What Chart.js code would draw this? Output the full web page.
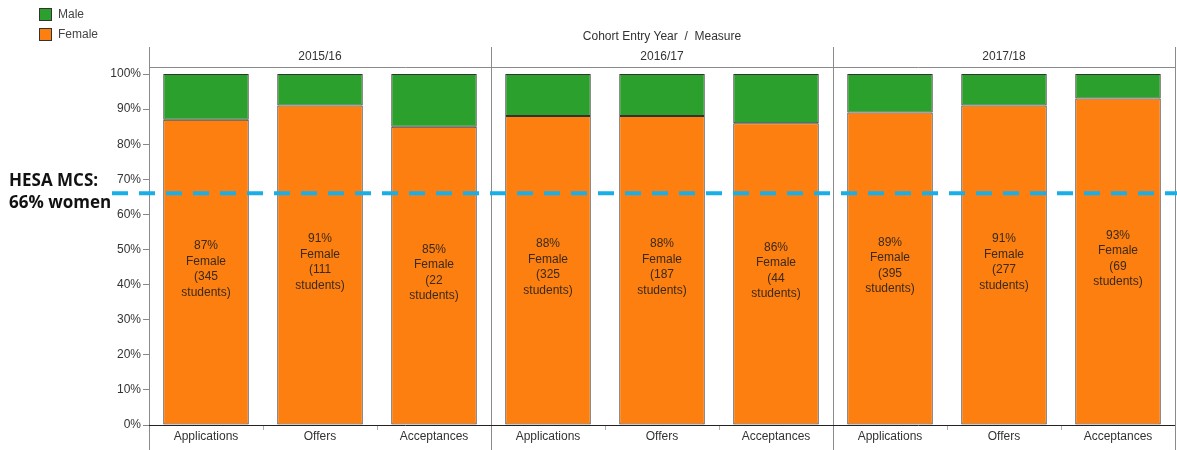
<!DOCTYPE html>
<html>
<head>
<meta charset="utf-8">
<script src="https://cdn.jsdelivr.net/npm/chart.js@4.4.1/dist/chart.umd.min.js"></script>
<style>
  html, body { margin: 0; padding: 0; background: #fff; }
  #wrap { width: 1177px; height: 450px; position: relative; }
</style>
</head>
<body>
<div id="wrap"><canvas id="genderChart"></canvas></div>
<script>
const years = ["2015/16", "2016/17", "2017/18"];
const measures = ["Applications", "Offers", "Acceptances"];
const femalePct = [87, 91, 85, 88, 88, 86, 89, 91, 93];
const malePct = [13, 9, 15, 12, 12, 14, 11, 9, 7];
const femaleStudents = [345, 111, 22, 325, 187, 44, 395, 277, 69];
const yTicks = [0, 10, 20, 30, 40, 50, 60, 70, 80, 90, 100];
const benchmarkPct = 66;
const benchmarkText = ["HESA MCS:", "66% women"];

const labels = [];
years.forEach(() => measures.forEach((m) => labels.push(m)));

const FONT = "Liberation Sans, Arial, sans-serif";
const GREEN = "#2ca02c";
const ORANGE = "#fd7f0f";

// headers, panel dividers, benchmark line, legend and bar labels
const decorations = {
  id: "decorations",
  afterDatasetsDraw(chart) {
    const ctx = chart.ctx;
    const y = chart.scales.y;
    const area = chart.chartArea;
    const n = labels.length;
    const step = (area.right - area.left) / n;

    ctx.save();

    // female bar labels
    const meta = chart.getDatasetMeta(0);
    ctx.fillStyle = "#3a2a1a";
    ctx.font = "12px " + FONT;
    ctx.textAlign = "center";
    ctx.textBaseline = "middle";
    meta.data.forEach((bar, i) => {
      const lines = [
        femalePct[i] + "%",
        "Female",
        "(" + femaleStudents[i],
        "students)",
      ];
      const mid = (bar.y + bar.base) / 2 - 3;
      const lh = 15.5;
      lines.forEach((t, k) => {
        ctx.fillText(t, bar.x, mid + (k - 1.5) * lh);
      });
    });

    // panel frame lines
    ctx.strokeStyle = "#8a8a8a";
    ctx.lineWidth = 1;
    for (let p = 0; p <= years.length; p++) {
      const px = Math.round(area.left + p * measures.length * step) + 0.5;
      ctx.beginPath();
      ctx.moveTo(px, 47);
      ctx.lineTo(px, chart.height);
      ctx.stroke();
    }
    ctx.beginPath();
    ctx.moveTo(area.left, 67.5);
    ctx.lineTo(area.right, 67.5);
    ctx.stroke();

    // small separators between measures under the axis
    ctx.strokeStyle = "#b0b0b0";
    for (let i = 1; i < n; i++) {
      if (i % measures.length === 0) continue;
      const px = Math.round(area.left + i * step) + 0.5;
      ctx.beginPath();
      ctx.moveTo(px, area.bottom);
      ctx.lineTo(px, area.bottom + 5);
      ctx.stroke();
    }

    // x axis baseline
    ctx.strokeStyle = "#222";
    ctx.beginPath();
    ctx.moveTo(area.left, area.bottom + 0.5);
    ctx.lineTo(area.right, area.bottom + 0.5);
    ctx.stroke();

    // header texts
    ctx.fillStyle = "#333";
    ctx.font = "12px " + FONT;
    ctx.fillText("Cohort Entry Year  /  Measure", (area.left + area.right) / 2, 37);
    years.forEach((yr, p) => {
      const cx = area.left + (p + 0.5) * measures.length * step;
      ctx.fillText(yr, cx, 57);
    });

    // benchmark line
    const by = y.getPixelForValue(benchmarkPct);
    ctx.strokeStyle = "#1aaee6";
    ctx.lineWidth = 4;
    ctx.setLineDash([16, 11]);
    ctx.beginPath();
    ctx.moveTo(112, by);
    ctx.lineTo(chart.width, by);
    ctx.stroke();
    ctx.setLineDash([]);

    ctx.fillStyle = "#111";
    ctx.font = "bold 17px 'Open Sans', sans-serif";
    ctx.textAlign = "left";
    ctx.fillText(benchmarkText[0], 9, by - 12);
    ctx.fillText(benchmarkText[1], 9, by + 10);

    // legend
    const items = [chart.data.datasets[1], chart.data.datasets[0]];
    ctx.font = "12px " + FONT;
    ctx.lineWidth = 1;
    items.forEach((ds, k) => {
      const ly = 8 + k * 20;
      ctx.fillStyle = ds.backgroundColor;
      ctx.fillRect(39.5, ly + 0.5, 12, 12);
      ctx.strokeStyle = "#333";
      ctx.strokeRect(39.5, ly + 0.5, 12, 12);
      ctx.fillStyle = "#444";
      ctx.fillText(ds.label, 58, ly + 7);
    });

    ctx.restore();
  },
};

new Chart(document.getElementById("genderChart"), {
  type: "bar",
  data: {
    labels: labels,
    datasets: [
      {
        label: "Female",
        data: femalePct,
        backgroundColor: ORANGE,
        borderColor: "#333",
        borderWidth: 1,
        borderSkipped: false,
      },
      {
        label: "Male",
        data: malePct,
        backgroundColor: GREEN,
        borderColor: "#333",
        borderWidth: 1,
        borderSkipped: false,
      },
    ],
  },
  options: {
    responsive: true,
    maintainAspectRatio: false,
    animation: false,
    layout: { padding: { top: 74, right: 2, left: 0, bottom: 0 } },
    datasets: { bar: { barPercentage: 0.75, categoryPercentage: 1 } },
    plugins: {
      legend: { display: false },
      tooltip: { enabled: false },
    },
    scales: {
      x: {
        stacked: true,
        grid: { display: false, drawTicks: false },
        border: { display: false },
        ticks: {
          color: "#333",
          font: { family: FONT, size: 12 },
          padding: 4,
          maxRotation: 0,
          autoSkip: false,
        },
        afterFit: (scale) => {
          scale.height = 25;
        },
      },
      y: {
        stacked: true,
        min: 0,
        max: 100,
        afterBuildTicks: (scale) => {
          scale.ticks = yTicks.map((v) => ({ value: v }));
        },
        grid: {
          display: true,
          drawOnChartArea: false,
          drawTicks: true,
          tickLength: 6,
          color: "#888",
        },
        border: { display: false },
        ticks: {
          color: "#333",
          font: { family: FONT, size: 12 },
          padding: 2,
          callback: (v) => v + "%",
        },
        afterFit: (scale) => {
          scale.width = 149;
        },
      },
    },
  },
  plugins: [decorations],
});
</script>
</body>
</html>
